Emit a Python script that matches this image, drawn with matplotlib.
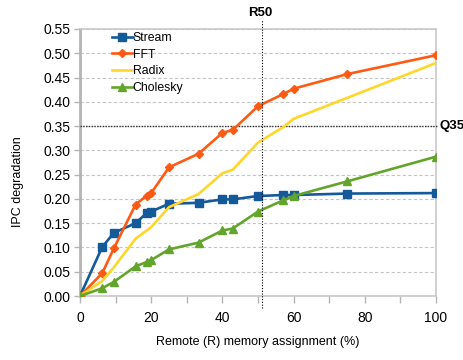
import matplotlib
matplotlib.use("Agg")
import matplotlib.pyplot as plt

plt.rcParams['font.family'] = ['Liberation Sans', 'DejaVu Sans']

remote_pct = [0, 6.25, 9.5, 15.6, 18.75, 20, 25, 33.3, 40, 42.9, 50, 57.1, 60, 75, 100]

stream = [0.000, 0.101, 0.130, 0.150, 0.171, 0.174, 0.190, 0.192, 0.199, 0.199, 0.206, 0.208, 0.208, 0.211, 0.212]
fft = [0.000, 0.047, 0.098, 0.188, 0.207, 0.212, 0.265, 0.293, 0.336, 0.342, 0.391, 0.416, 0.427, 0.457, 0.496]
radix = [0.000, 0.031, 0.059, 0.118, 0.135, 0.142, 0.183, 0.210, 0.253, 0.260, 0.316, 0.348, 0.365, 0.408, 0.480]
cholesky = [0.000, 0.016, 0.029, 0.061, 0.070, 0.074, 0.096, 0.110, 0.135, 0.139, 0.174, 0.197, 0.206, 0.236, 0.287]

series_names = ["Stream", "FFT", "Radix", "Cholesky"]
series_values = [stream, fft, radix, cholesky]
series_colors = ["#145a9b", "#ff5a14", "#ffd62a", "#62a52a"]
series_markers = ["s", "D", None, "^"]
series_msizes = [6, 4.5, 0, 6]

x_ticks = [0, 20, 40, 60, 80, 100]
y_ticks = [0.00, 0.05, 0.10, 0.15, 0.20, 0.25, 0.30, 0.35, 0.40, 0.45, 0.50, 0.55]

r_mark = 51
q_mark = 0.35

W, H = 464, 360
fig = plt.figure(figsize=(W / 100, H / 100), dpi=100)
ax = fig.add_axes([80 / W, 64 / H, 356 / W, 267 / H])

for name, vals, col, mk, ms in zip(series_names, series_values, series_colors,
                                   series_markers, series_msizes):
    ax.plot(remote_pct, vals, color=col, lw=1.9, marker=mk, markersize=ms,
            markeredgecolor=col, markerfacecolor=col, label=name, zorder=4,
            solid_joinstyle='round')

ax.set_xlim(0, 100)
ax.set_ylim(0, 0.55)
ax.set_xticks(x_ticks)
ax.set_xticks(range(0, 101, 10), minor=True)
ax.set_yticks(y_ticks)
ax.set_yticklabels([f"{v:.2f}" for v in y_ticks])

ax.grid(axis='y', color='#c4c4c4', linestyle=(0, (3, 2)), lw=0.8, zorder=0)

for side in ['top', 'right', 'bottom']:
    ax.spines[side].set_color('#c8c8c8')
    ax.spines[side].set_linewidth(1.2)
ax.spines['left'].set_color('#b4b4b4')
ax.spines['left'].set_linewidth(2.0)

ax.tick_params(axis='both', which='both', colors='#b4b4b4', labelcolor='black',
               labelsize=10)
ax.tick_params(axis='x', which='both', length=5, width=1, pad=6)
ax.tick_params(axis='y', length=4, width=1, pad=3)

# reference lines for the 50% remote share and the 0.35 degradation level
ax.plot([r_mark, r_mark], [-0.025, 0.568], color='black', lw=0.8,
        linestyle=(0, (1, 1.5)), clip_on=False, zorder=5)
ax.plot([0, 100.3], [q_mark, q_mark], color='#333333', lw=1.0,
        linestyle=(0, (1, 1)), clip_on=False, zorder=3)
ax.text(r_mark - 0.3, 0.583, "R50", ha='center', va='center', fontsize=9.5,
        fontweight='bold')
ax.text(104.5, q_mark, "Q35", ha='center', va='center', fontsize=9.5,
        fontweight='bold')

ax.set_xlabel("Remote (R) memory assignment (%)", fontsize=9, labelpad=8)
fig.text(18 / W, 1 - 182 / H, "IPC degradation", rotation=90, ha='center',
         va='center', fontsize=9)

ax.legend(loc='upper left', bbox_to_anchor=(112 / W, 1 - 32 / H),
          bbox_transform=fig.transFigure, frameon=False, borderaxespad=0,
          borderpad=0, fontsize=8.8, handlelength=1.7, handletextpad=0.0,
          labelspacing=0.38)

fig.savefig("out.png", dpi=100)
